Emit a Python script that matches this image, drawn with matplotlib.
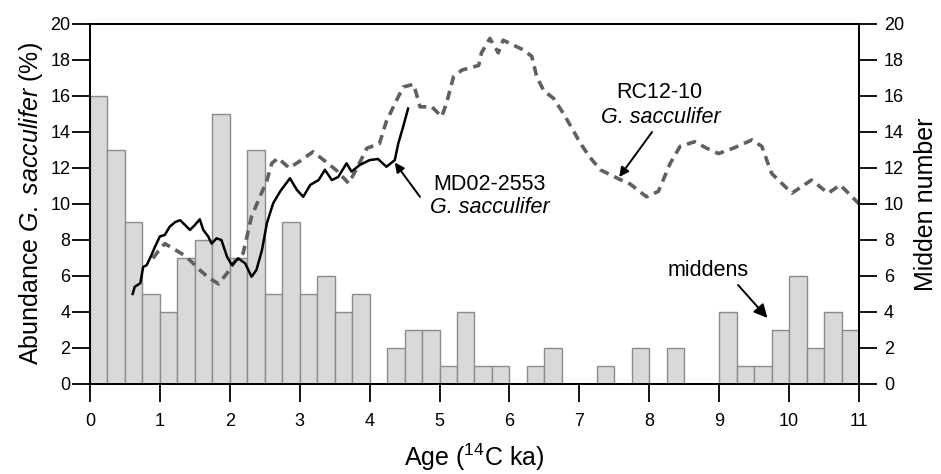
import matplotlib
matplotlib.use("Agg")
import numpy as np
import matplotlib.pyplot as plt

plt.rcParams['font.family'] = ['Liberation Sans', 'DejaVu Sans']
plt.rcParams['mathtext.fontset'] = 'custom'
plt.rcParams['mathtext.rm'] = 'Liberation Sans'
plt.rcParams['mathtext.it'] = 'Liberation Sans:italic'

# midden counts, 0.25 ka bins starting at 0
bin_start = np.arange(0, 11, 0.25)
midden_counts = [16, 13, 9, 5, 4, 7, 8, 15, 7, 13, 5, 9, 5, 6, 4, 5,
                 0, 2, 3, 3, 1, 4, 1, 1, 0, 1, 2, 0, 0, 1, 0, 2,
                 0, 2, 0, 0, 4, 1, 1, 3, 6, 2, 4, 3]

# RC12-10 G. sacculifer abundance (%)
rc_age = [0.90, 0.98, 1.07, 1.20, 1.34, 1.45, 1.57, 1.70, 1.84, 1.96, 2.07, 2.19,
          2.31, 2.43, 2.53, 2.60, 2.69, 2.85, 3.00, 3.19, 3.39, 3.53, 3.70, 3.82,
          3.96, 4.14, 4.24, 4.39, 4.48, 4.63, 4.72, 4.89, 5.03, 5.10, 5.20, 5.32,
          5.56, 5.60, 5.72, 5.84, 5.91, 6.20, 6.32, 6.39, 6.49, 6.63, 6.77, 6.91,
          7.01, 7.15, 7.30, 7.56, 7.73, 7.96, 8.13, 8.30, 8.44, 8.65, 8.82, 8.99,
          9.20, 9.47, 9.61, 9.75, 10.04, 10.32, 10.56, 10.73, 10.97, 11.0]
rc_abund = [6.98, 7.4, 7.8, 7.5, 7.17, 6.8, 6.33, 5.9, 5.56, 6.15, 6.8, 7.26,
            9.3, 10.4, 11.3, 12.26, 12.55, 12.0, 12.38, 12.9, 12.3, 11.85, 11.15, 12.0,
            13.1, 13.35, 14.6, 15.8, 16.5, 16.65, 15.4, 15.4, 14.85, 15.6, 17.07, 17.44,
            17.7, 18.4, 19.2, 18.4, 19.1, 18.56, 18.2, 17.07, 16.3, 15.87, 15.04, 14.1,
            13.4, 12.6, 11.9, 11.4, 11.1, 10.4, 10.7, 12.26, 13.2, 13.46, 13.1, 12.8,
            13.1, 13.56, 13.2, 11.7, 10.6, 11.33, 10.6, 11.06, 10.13, 10.0]

# MD02-2553 G. sacculifer abundance (%)
md_age = [0.61, 0.64, 0.72, 0.76, 0.81, 0.88, 0.93, 1.00, 1.07, 1.14, 1.22, 1.29,
          1.36, 1.43, 1.50, 1.57, 1.62, 1.69, 1.74, 1.81, 1.88, 1.96, 2.03, 2.12,
          2.22, 2.31, 2.38, 2.46, 2.53, 2.62, 2.72, 2.77, 2.86, 2.96, 3.05, 3.15,
          3.27, 3.36, 3.46, 3.55, 3.67, 3.74, 3.86, 4.00, 4.12, 4.24, 4.36, 4.41,
          4.48, 4.55]
md_abund = [5.0, 5.4, 5.6, 6.5, 6.6, 7.17, 7.63, 8.2, 8.28, 8.74, 9.0, 9.1,
            8.83, 8.56, 8.83, 9.15, 8.56, 8.2, 7.8, 8.09, 8.0, 7.07, 6.6, 6.98,
            6.7, 5.96, 6.33, 7.44, 8.93, 10.04, 10.7, 10.96, 11.43, 10.78, 10.4, 11.06,
            11.33, 11.9, 11.33, 11.5, 12.26, 11.8, 12.17, 12.44, 12.5, 12.07, 12.44, 13.37,
            14.3, 15.3]

fig = plt.figure(figsize=(9.41, 4.74), dpi=100)
ax = fig.add_axes([90 / 941, 90 / 474, 769 / 941, 360 / 474])
ax2 = ax.twinx()

# bars on the right axis, lines on the left axis drawn on top
ax2.bar(bin_start, midden_counts, width=0.25, align='edge',
        facecolor='#d9d9d9', edgecolor='#8c8c8c', linewidth=1.0)
ax.set_zorder(ax2.get_zorder() + 1)
ax.patch.set_visible(False)

ax.plot(rc_age, rc_abund, color='#606060', linewidth=2.6, linestyle=(0, (2.6, 1.7)))
ax.plot(md_age, md_abund, color='black', linewidth=1.8)

for a in (ax, ax2):
    a.set_xlim(0, 11)
    a.set_ylim(0, 20)
    for s in a.spines.values():
        s.set_linewidth(1.3)

ax.set_xticks(range(0, 12))
ax.set_yticks(range(0, 21, 2))
ax2.set_yticks(range(0, 21, 2))
ax.tick_params(axis='both', direction='out', length=13, width=1.3, labelsize=13)
ax.tick_params(axis='y', pad=1)
ax.tick_params(axis='x', pad=8)
ax2.tick_params(axis='y', direction='out', length=13, width=1.3, labelsize=13, pad=5)

ax.set_xlabel('Age ($^{14}$C ka)', fontsize=18, labelpad=8)
ax.set_ylabel('Abundance $\\it{G.\\ sacculifer}$ (%)', fontsize=18, labelpad=4)
ax2.set_ylabel('Midden number', fontsize=18, labelpad=7)

# annotations
ax.text(5.72, 11.11, 'MD02-2553', fontsize=15.5, ha='center', va='center')
ax.text(5.72, 9.83, 'G. sacculifer', fontsize=15.5, ha='center', va='center',
        fontstyle='italic')
ax.annotate('', xy=(4.36, 12.3), xytext=(4.72, 10.4),
            arrowprops=dict(arrowstyle='-|>', mutation_scale=14, lw=1.4, color='black',
                            shrinkA=0, shrinkB=0))

ax.text(8.14, 16.17, 'RC12-10', fontsize=15.5, ha='center', va='center')
ax.text(8.16, 14.83, 'G. sacculifer', fontsize=15.5, ha='center', va='center',
        fontstyle='italic')
ax.annotate('', xy=(7.57, 11.5), xytext=(8.04, 14.0),
            arrowprops=dict(arrowstyle='-|>', mutation_scale=14, lw=1.4, color='black',
                            shrinkA=0, shrinkB=0))

ax.text(8.84, 6.33, 'middens', fontsize=15.5, ha='center', va='center')
ax.annotate('', xy=(9.69, 3.67), xytext=(9.27, 5.5),
            arrowprops=dict(arrowstyle='-|>', mutation_scale=20, lw=1.4, color='black',
                            shrinkA=0, shrinkB=0))

fig.savefig('out.png', dpi=100)
